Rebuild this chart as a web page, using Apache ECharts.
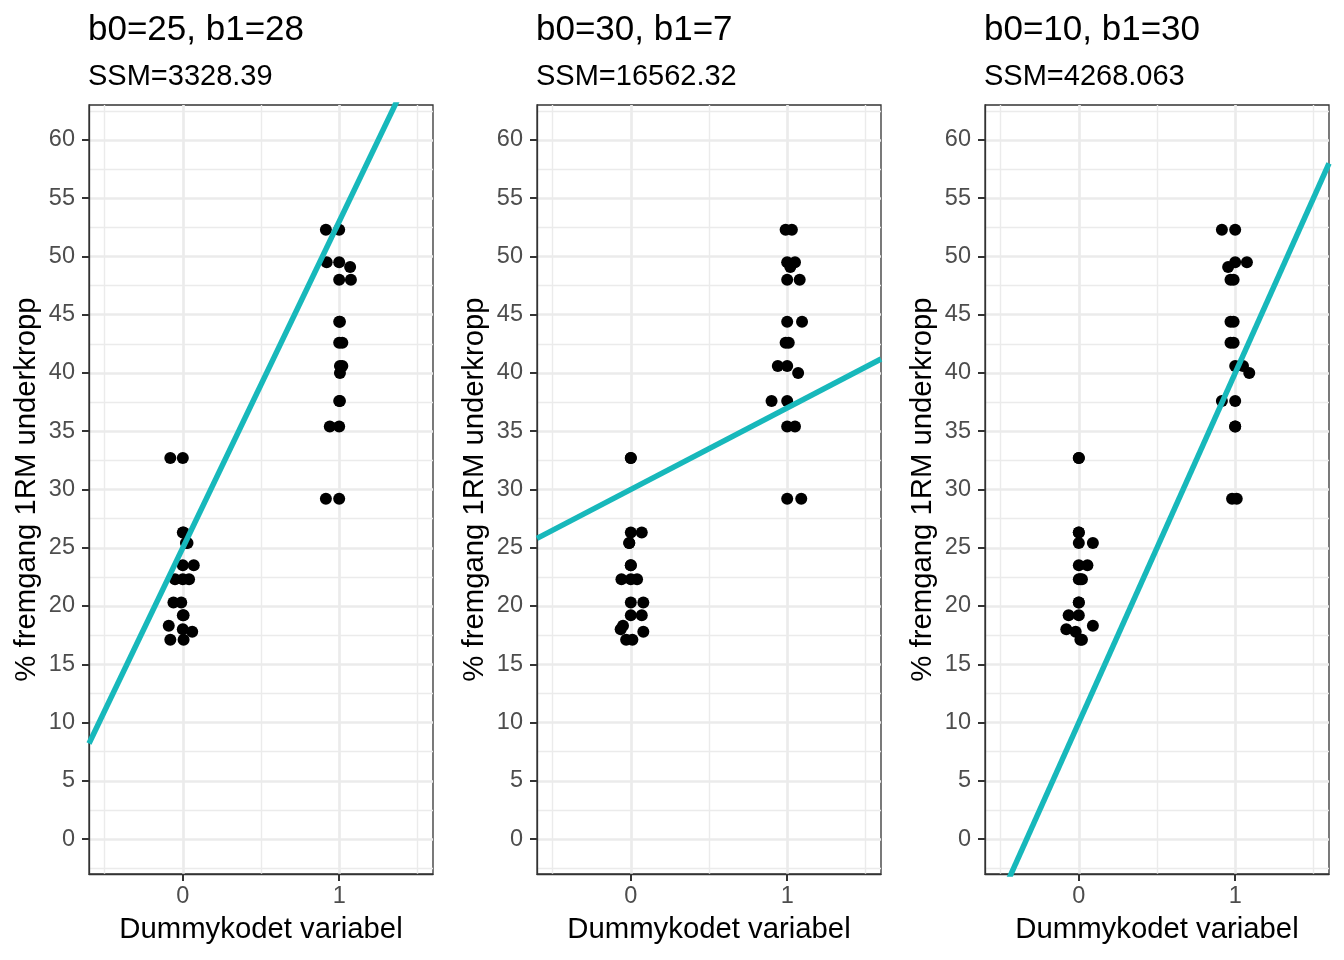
<!DOCTYPE html>
<html>
<head>
<meta charset="utf-8">
<script src="https://cdn.jsdelivr.net/npm/echarts@6/dist/echarts.min.js"></script>
<style>
  html, body { margin: 0; padding: 0; background: #fff; }
  #chart { width: 1344px; height: 960px; }
</style>
</head>
<body>
<div id="chart"></div>
<script>
// model parameters per panel
const b0s = [25, 30, 10];
const b1s = [28, 7, 30];
const ssmLabels = ['3328.39', '16562.32', '4268.063'];

// observed values, group 0 and group 1
const yGroup0 = [32.7, 32.7, 26.3, 26.3, 25.4, 25.4, 23.5, 23.5, 22.3, 22.3, 22.3, 20.3, 20.3, 19.2, 19.2, 18.3, 18.0, 17.8, 17.1, 17.1];
const yGroup1 = [52.3, 52.3, 49.5, 49.5, 49.1, 48.0, 48.0, 44.4, 44.4, 42.6, 42.6, 40.6, 40.6, 40.0, 37.6, 37.6, 35.4, 35.4, 29.2, 29.2];

// horizontal jitter of each point, one row per panel
const jitter0 = [
  [-0.08, 0, 0, 0.005, 0.03, 0.02, 0, 0.07, -0.05, 0, 0.04, -0.06, -0.01, 0.005, 0, -0.09, 0, 0.06, -0.08, 0.005],
  [0, 0, 0, 0.07, -0.01, -0.01, 0, 0, -0.06, 0, 0.04, 0, 0.08, 0, 0.07, -0.05, -0.065, 0.08, -0.03, 0.01],
  [0, 0, 0, 0, 0, 0.09, 0, 0.055, 0, 0.01, 0.02, 0, 0, -0.065, 0, 0.09, -0.08, -0.02, 0.01, 0.02]
];
const jitter1 = [
  [-0.085, 0, -0.08, 0, 0.07, 0, 0.075, 0, 0.005, 0, 0.02, 0.02, 0.005, 0.005, 0, 0.005, -0.06, 0, -0.085, 0],
  [-0.01, 0.03, 0, 0.05, 0.02, 0, 0.08, 0, 0.095, -0.01, 0.01, -0.06, 0, 0.07, -0.1, 0, 0, 0.05, 0, 0.09],
  [-0.085, 0, 0, 0.075, -0.045, -0.03, -0.01, -0.03, -0.01, -0.03, -0.01, 0, 0.05, 0.09, -0.085, 0, 0, 0, -0.02, 0.01]
];

// axis ticks
const yTicks = [0, 5, 10, 15, 20, 25, 30, 35, 40, 45, 50, 55, 60];
const yMinorTicks = [-2.5, 2.5, 7.5, 12.5, 17.5, 22.5, 27.5, 32.5, 37.5, 42.5, 47.5, 52.5, 57.5, 62.5];
const xTicks = [0, 1];
const xMinorTicks = [-0.5, 0.5, 1.5];

const xRange = [-0.6, 1.6];
const yRange = [-3, 63];

const font = 'Liberation Sans, Arial, Helvetica, sans-serif';
const gridLeft = [89, 537, 985];

const grids = [], xAxes = [], yAxes = [], series = [], titles = [];

gridLeft.forEach((left, i) => {
  grids.push({
    left: left, top: 105, width: 344, height: 769,
    show: true, borderColor: '#333333', borderWidth: 1.3, backgroundColor: '#ffffff'
  });

  titles.push({
    text: 'b0=' + b0s[i] + ', b1=' + b1s[i],
    left: left - 6, top: 8,
    textStyle: { fontFamily: font, fontSize: 35, fontWeight: 'normal', color: '#000', lineHeight: 35 }
  });
  titles.push({
    text: 'SSM=' + ssmLabels[i],
    left: left - 6, top: 57,
    textStyle: { fontFamily: font, fontSize: 29, fontWeight: 'normal', color: '#000', lineHeight: 29 }
  });

  // major x axis
  xAxes.push({
    type: 'value', gridIndex: i, min: xRange[0], max: xRange[1], position: 'bottom',
    name: 'Dummykodet variabel', nameLocation: 'middle', nameGap: 41,
    nameTextStyle: { fontFamily: font, fontSize: 29.3, color: '#000' },
    axisLine: { show: true, onZero: false, lineStyle: { color: '#333', width: 1.3 } },
    axisTick: { show: true, length: 7, customValues: xTicks, lineStyle: { color: '#333', width: 2 } },
    axisLabel: { customValues: xTicks, margin: 11, fontFamily: font, fontSize: 23.5, color: '#4d4d4d' },
    splitLine: { show: true, lineStyle: { color: '#ebebeb', width: 2.7 } }
  });
  // minor x grid
  xAxes.push({
    type: 'value', gridIndex: i, min: xRange[0], max: xRange[1], position: 'bottom',
    axisLine: { show: false },
    axisTick: { show: false, customValues: xMinorTicks },
    axisLabel: { show: false, customValues: xMinorTicks },
    splitLine: { show: true, lineStyle: { color: '#ebebeb', width: 1.4 } }
  });

  // major y axis
  yAxes.push({
    type: 'value', gridIndex: i, min: yRange[0], max: yRange[1], position: 'left',
    name: '% fremgang 1RM underkropp', nameLocation: 'middle', nameGap: 48,
    nameTextStyle: { fontFamily: font, fontSize: 29.3, color: '#000' },
    axisLine: { show: true, onZero: false, lineStyle: { color: '#333', width: 1.3 } },
    axisTick: { show: true, length: 7, customValues: yTicks, lineStyle: { color: '#333', width: 2 } },
    axisLabel: { customValues: yTicks, margin: 14, fontFamily: font, fontSize: 23.5, color: '#4d4d4d' },
    splitLine: { show: true, lineStyle: { color: '#ebebeb', width: 2.7 } }
  });
  // minor y grid
  yAxes.push({
    type: 'value', gridIndex: i, min: yRange[0], max: yRange[1], position: 'left',
    axisLine: { show: false },
    axisTick: { show: false, customValues: yMinorTicks },
    axisLabel: { show: false, customValues: yMinorTicks },
    splitLine: { show: true, lineStyle: { color: '#ebebeb', width: 1.4 } }
  });

  const pts = yGroup0.map((y, k) => [0 + jitter0[i][k], y])
    .concat(yGroup1.map((y, k) => [1 + jitter1[i][k], y]));

  series.push({
    type: 'scatter', xAxisIndex: 2 * i, yAxisIndex: 2 * i,
    data: pts, symbolSize: 12, itemStyle: { color: '#000', opacity: 1 },
    silent: true, z: 3
  });

  series.push({
    type: 'line', xAxisIndex: 2 * i, yAxisIndex: 2 * i,
    data: [[xRange[0], b0s[i] + b1s[i] * xRange[0]], [xRange[1], b0s[i] + b1s[i] * xRange[1]]],
    showSymbol: false, clip: true, silent: true, z: 4,
    lineStyle: { color: '#17B8BB', width: 5.5 }
  });
});

const chart = echarts.init(document.getElementById('chart'), null, { renderer: 'canvas' });
chart.setOption({
  backgroundColor: '#ffffff',
  animation: false,
  title: titles,
  grid: grids,
  xAxis: xAxes,
  yAxis: yAxes,
  series: series
});
</script>
</body>
</html>
